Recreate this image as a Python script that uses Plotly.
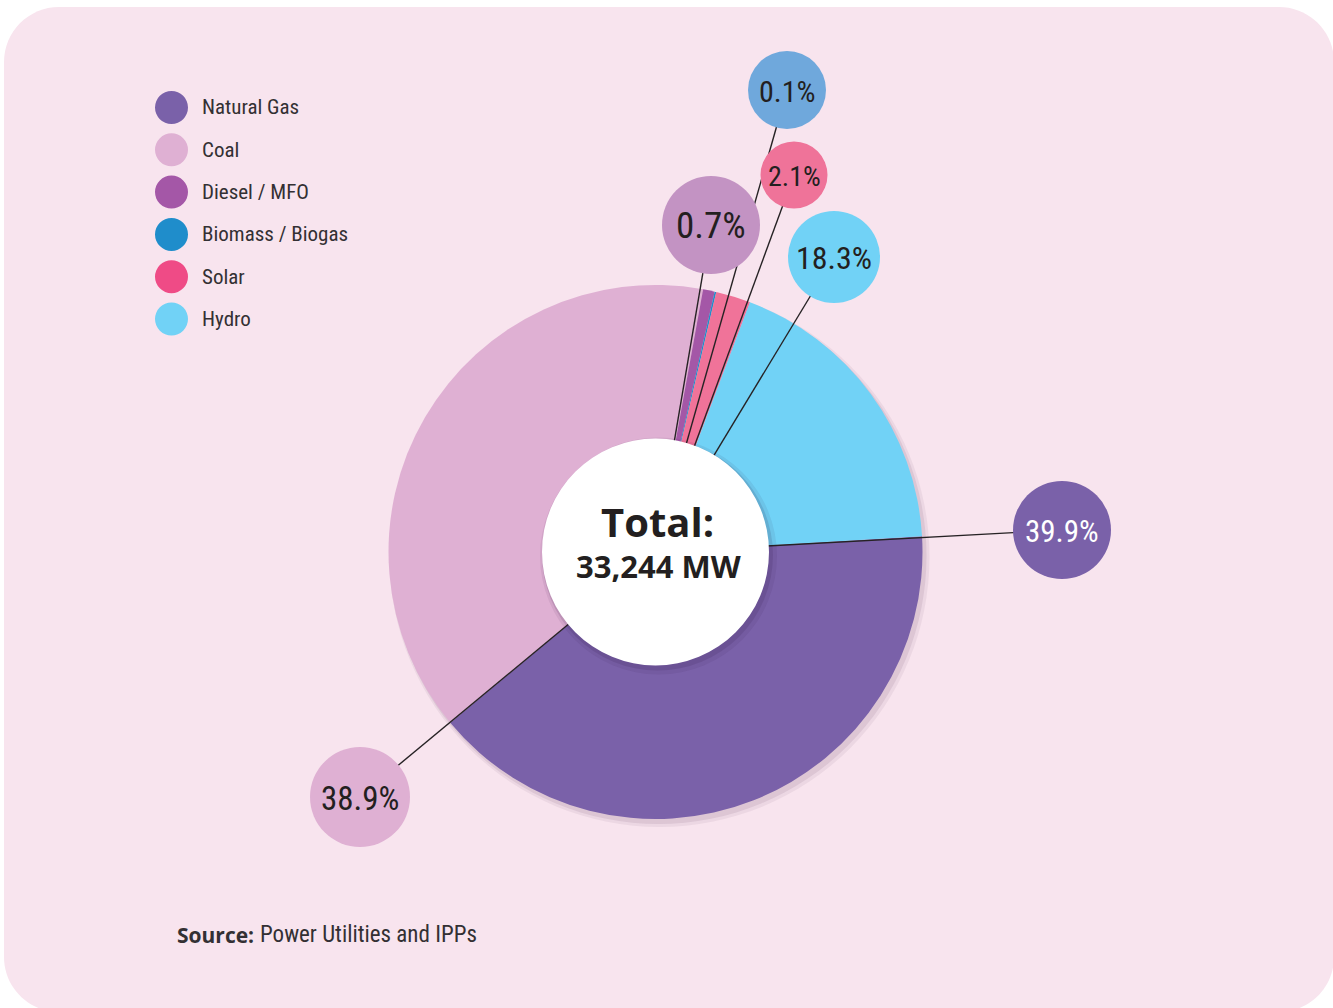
import plotly.graph_objects as go

# ---------------- data ----------------
categories = ["Natural Gas", "Coal", "Diesel / MFO", "Biomass / Biogas", "Solar", "Hydro"]
shares = [39.9, 38.9, 0.7, 0.1, 2.1, 18.3]
total_mw = 33244
source_label = "Power Utilities and IPPs"

# ---------------- styles / layout ----------------
W, H = 1333, 1008
CX, CY = 655.5, 552.0          # pie centre in pixels
R_PIE = 267.0
R_HOLE = 113.5
START_ANGLE = 86.6             # first slice starts here (clockwise from 12 o'clock)

slice_colors = ["#7a61a9", "#dfb0d3", "#a457a7", "#1f8dcb", "#f07399", "#71d2f6"]
legend_colors = ["#7a61a9", "#dfb0d3", "#a457a7", "#1f8dcb", "#ef4b86", "#71d2f6"]
bubble_colors = ["#7a61a9", "#dfb0d3", "#c393c3", "#6fa8dc", "#ef7399", "#71d2f6"]
bubble_text_colors = ["#ffffff", "#231f20", "#231f20", "#231f20", "#231f20", "#231f20"]
bubble_centers = [(1062, 530), (360, 797), (711, 225), (787, 90), (794, 175), (834, 257)]
bubble_radii = [49, 50, 49, 39, 33.5, 46]
bubble_font_sizes = [31, 33, 37, 30, 28, 32]

BG = "#f8e4ee"
TEXT = "#333033"
NARROW = "Roboto Condensed, Liberation Sans Narrow, sans-serif"
BOLD = "Open Sans, Noto Sans, sans-serif"


def X(px):
    return px / W


def Y(py):
    return 1 - py / H


def circle(cx, cy, r, color, layer="above"):
    return dict(type="circle", xref="paper", yref="paper", layer=layer,
                x0=X(cx - r), x1=X(cx + r), y0=Y(cy + r), y1=Y(cy - r),
                fillcolor=color, line=dict(width=0))


def rounded_rect(x0, y0, x1, y1, r):
    k = 0.5523 * r
    p = [
        f"M {X(x0 + r)},{Y(y0)}",
        f"L {X(x1 - r)},{Y(y0)}",
        f"C {X(x1 - r + k)},{Y(y0)} {X(x1)},{Y(y0 + r - k)} {X(x1)},{Y(y0 + r)}",
        f"L {X(x1)},{Y(y1 - r)}",
        f"C {X(x1)},{Y(y1 - r + k)} {X(x1 - r + k)},{Y(y1)} {X(x1 - r)},{Y(y1)}",
        f"L {X(x0 + r)},{Y(y1)}",
        f"C {X(x0 + r - k)},{Y(y1)} {X(x0)},{Y(y1 - r + k)} {X(x0)},{Y(y1 - r)}",
        f"L {X(x0)},{Y(y0 + r)}",
        f"C {X(x0)},{Y(y0 + r - k)} {X(x0 + r - k)},{Y(y0)} {X(x0 + r)},{Y(y0)}",
        "Z",
    ]
    return dict(type="path", xref="paper", yref="paper", layer="below",
                path=" ".join(p), fillcolor=BG, line=dict(width=0))


fig = go.Figure()

fig.add_trace(go.Pie(
    labels=categories,
    values=shares,
    sort=False,
    direction="clockwise",
    rotation=START_ANGLE,
    marker=dict(colors=slice_colors, line=dict(width=0)),
    textinfo="none",
    hoverinfo="label+percent",
    showlegend=False,
    domain=dict(x=[X(CX - R_PIE), X(CX + R_PIE)],
                y=[Y(CY + R_PIE), Y(CY - R_PIE)]),
))

shapes = [rounded_rect(4, 7, 1334, 1012, 55)]
# soft shadow under pie
shapes.append(circle(CX + 4, CY + 5, R_PIE + 3, "rgba(90,50,90,0.07)", layer="below"))
shapes.append(circle(CX + 3, CY + 4, R_PIE + 1, "rgba(90,50,90,0.10)", layer="below"))

# leader lines (radial from the centre to each bubble)
for (bx, by) in bubble_centers:
    shapes.append(dict(type="line", xref="paper", yref="paper", layer="above",
                       x0=X(CX), y0=Y(CY), x1=X(bx), y1=Y(by),
                       line=dict(color="#262224", width=1.4)))

# centre disc with soft shadow
shapes.append(circle(CX + 3, CY + 4, R_HOLE + 5, "rgba(40,20,60,0.07)"))
shapes.append(circle(CX + 2, CY + 3, R_HOLE + 2, "rgba(40,20,60,0.12)"))
shapes.append(circle(CX, CY, R_HOLE, "#ffffff"))

# bubbles
for (bx, by), r, c in zip(bubble_centers, bubble_radii, bubble_colors):
    shapes.append(circle(bx, by, r, c))

# legend markers
LEG_X, LEG_Y0, LEG_DY, LEG_R = 171.5, 107.5, 42.3, 16.5
for i, c in enumerate(legend_colors):
    shapes.append(circle(LEG_X, LEG_Y0 + i * LEG_DY, LEG_R, c))

annotations = []
for i, name in enumerate(categories):
    annotations.append(dict(xref="paper", yref="paper", x=X(200), y=Y(LEG_Y0 + i * LEG_DY),
                            xanchor="left", yanchor="middle", showarrow=False,
                            text=name, font=dict(family=NARROW, size=21, color=TEXT)))

for v, (bx, by), fs, tc in zip(shares, bubble_centers, bubble_font_sizes, bubble_text_colors):
    annotations.append(dict(xref="paper", yref="paper", x=X(bx), y=Y(by + 1),
                            xanchor="center", yanchor="middle", showarrow=False,
                            text=f"{v:.1f}%", font=dict(family=NARROW, size=fs, color=tc)))

annotations.append(dict(xref="paper", yref="paper", x=X(CX + 2), y=Y(521),
                        xanchor="center", yanchor="middle", showarrow=False,
                        text="<b>Total:</b>", font=dict(family=BOLD, size=40, color="#231f20")))
annotations.append(dict(xref="paper", yref="paper", x=X(CX + 3), y=Y(566),
                        xanchor="center", yanchor="middle", showarrow=False,
                        text=f"<b>{total_mw:,} MW</b>", font=dict(family=BOLD, size=31, color="#231f20")))

annotations.append(dict(xref="paper", yref="paper", x=X(175), y=Y(935),
                        xanchor="left", yanchor="middle", showarrow=False,
                        text="<b>Source:</b>", font=dict(family=BOLD, size=21, color=TEXT)))
annotations.append(dict(xref="paper", yref="paper", x=X(258), y=Y(934),
                        xanchor="left", yanchor="middle", showarrow=False,
                        text=source_label, font=dict(family=NARROW, size=23, color=TEXT)))

fig.update_layout(
    width=W, height=H,
    margin=dict(l=0, r=0, t=0, b=0),
    paper_bgcolor="#ffffff",
    plot_bgcolor="#ffffff",
    shapes=shapes,
    annotations=annotations,
    showlegend=False,
)

fig.write_html("out.html")
